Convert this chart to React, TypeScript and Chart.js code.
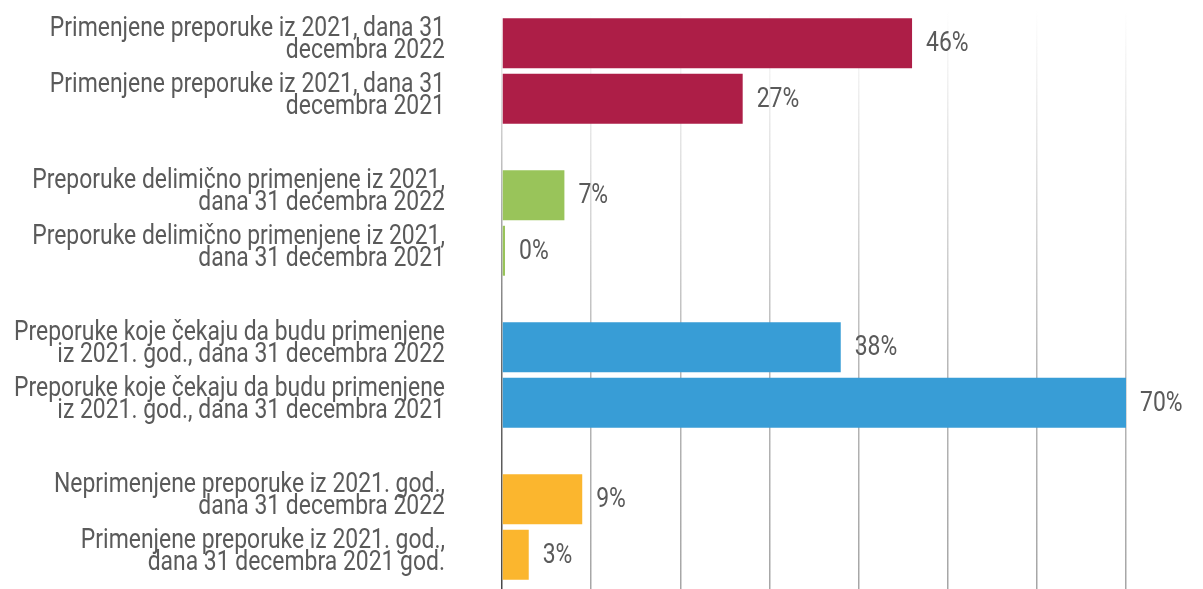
import React, { useEffect, useRef } from "react";
import { Chart, registerables } from "chart.js";

Chart.register(...registerables);

const groups = ["Primenjene", "Delimično primenjene", "Čekaju primenu", "Neprimenjene"];
const values2022 = [46, 7, 38, 9];
const values2021 = [27, 0, 70, 3];
const labels2022 = [
  ["Primenjene preporuke iz 2021, dana 31", "decembra 2022"],
  ["Preporuke delimično primenjene iz 2021,", "dana 31 decembra 2022"],
  ["Preporuke koje čekaju da budu primenjene", "iz 2021. god., dana 31 decembra 2022"],
  ["Neprimenjene preporuke iz 2021. god.,", "dana 31 decembra 2022"],
];
const labels2021 = [
  ["Primenjene preporuke iz 2021, dana 31", "decembra 2021"],
  ["Preporuke delimično primenjene iz 2021,", "dana 31 decembra 2021"],
  ["Preporuke koje čekaju da budu primenjene", "iz 2021. god., dana 31 decembra 2021"],
  ["Primenjene preporuke iz 2021. god.,", "dana 31 decembra 2021 god."],
];
const xTicks = [0, 10, 20, 30, 40, 50, 60, 70];
const colors = ["#AD1E47", "#99C45A", "#389DD6", "#FBB62E"];

const FONT = 'Roboto, "Liberation Sans", sans-serif';
const TEXT_COLOR = "#5a5a5a";
// condensed look: widths of a few label lines as measured in the reference
const REF_LINES: [string, number][] = [
  [labels2022[0][0], 420],
  [labels2022[1][0], 437],
  [labels2022[2][0], 431],
];

function drawCondensed(ctx: any, text: string, x: number, y: number, sx: number) {
  ctx.save();
  ctx.translate(x, y);
  ctx.scale(sx, 1);
  ctx.fillText(text, 0, 0);
  ctx.restore();
}

const labelPlugin = {
  id: "barLabels",
  afterDatasetsDraw(chart: any) {
    const ctx = chart.ctx;
    const area = chart.chartArea;
    const labelSets = [labels2022, labels2021];
    ctx.save();
    ctx.font = `28px ${FONT}`;
    const sx = Math.min(...REF_LINES.map(([t, w]) => w / ctx.measureText(t).width));
    ctx.fillStyle = TEXT_COLOR;
    chart.data.datasets.forEach((ds: any, di: number) => {
      const meta = chart.getDatasetMeta(di);
      meta.data.forEach((bar: any, j: number) => {
        const v = ds.data[j];
        ctx.textAlign = "left";
        ctx.textBaseline = "middle";
        drawCondensed(ctx, `${v}%`, bar.x + 14, bar.y + 1, sx);
        const lines = labelSets[di][j];
        ctx.textAlign = "right";
        ctx.textBaseline = "alphabetic";
        const xr = area.left - 57;
        drawCondensed(ctx, lines[0], xr, bar.y - 7, sx);
        drawCondensed(ctx, lines[1], xr, bar.y + 15, sx);
      });
    });
    ctx.restore();
  },
};

function gridColor(c: any) {
  const chart = c.chart;
  const area = chart.chartArea;
  const isAxis = c.tick && c.tick.value === 0;
  if (!area) return isAxis ? "#666" : "#bbb";
  const g = chart.ctx.createLinearGradient(0, area.top + 15, 0, area.bottom);
  const rgb = isAxis ? "70,70,70" : "165,165,165";
  g.addColorStop(0, `rgba(${rgb},0)`);
  g.addColorStop(0.3, `rgba(${rgb},0.4)`);
  g.addColorStop(0.6, `rgba(${rgb},0.8)`);
  g.addColorStop(1, `rgba(${rgb},1)`);
  return g;
}

export default function App() {
  const ref = useRef<HTMLCanvasElement>(null);
  useEffect(() => {
    if (!ref.current) return;
    const chart = new Chart(ref.current, {
      type: "bar",
      data: {
        labels: groups,
        datasets: [
          {
            label: "31 decembra 2022",
            data: values2022,
            backgroundColor: colors,
            categoryPercentage: 0.73,
            barPercentage: 0.9,
            minBarLength: 3,
          },
          {
            label: "31 decembra 2021",
            data: values2021,
            backgroundColor: colors,
            categoryPercentage: 0.73,
            barPercentage: 0.9,
            minBarLength: 3,
          },
        ],
      },
      options: {
        indexAxis: "y",
        animation: false,
        responsive: true,
        maintainAspectRatio: false,
        layout: { padding: { left: 494, right: 69, top: 0, bottom: 0 } },
        plugins: { legend: { display: false }, tooltip: { enabled: false } },
        scales: {
          x: {
            min: xTicks[0],
            max: xTicks[xTicks.length - 1],
            afterBuildTicks: (s: any) => {
              s.ticks = xTicks.map((v) => ({ value: v }));
            },
            ticks: { display: false },
            grid: { color: gridColor, lineWidth: 1.5, drawTicks: false },
            border: { display: false },
          },
          y: { display: false },
        },
      },
      plugins: [labelPlugin],
    });
    return () => chart.destroy();
  }, []);
  return (
    <div style={{ position: "relative", marginTop: -13, height: 608, width: "100%" }}>
      <canvas ref={ref} />
    </div>
  );
}
